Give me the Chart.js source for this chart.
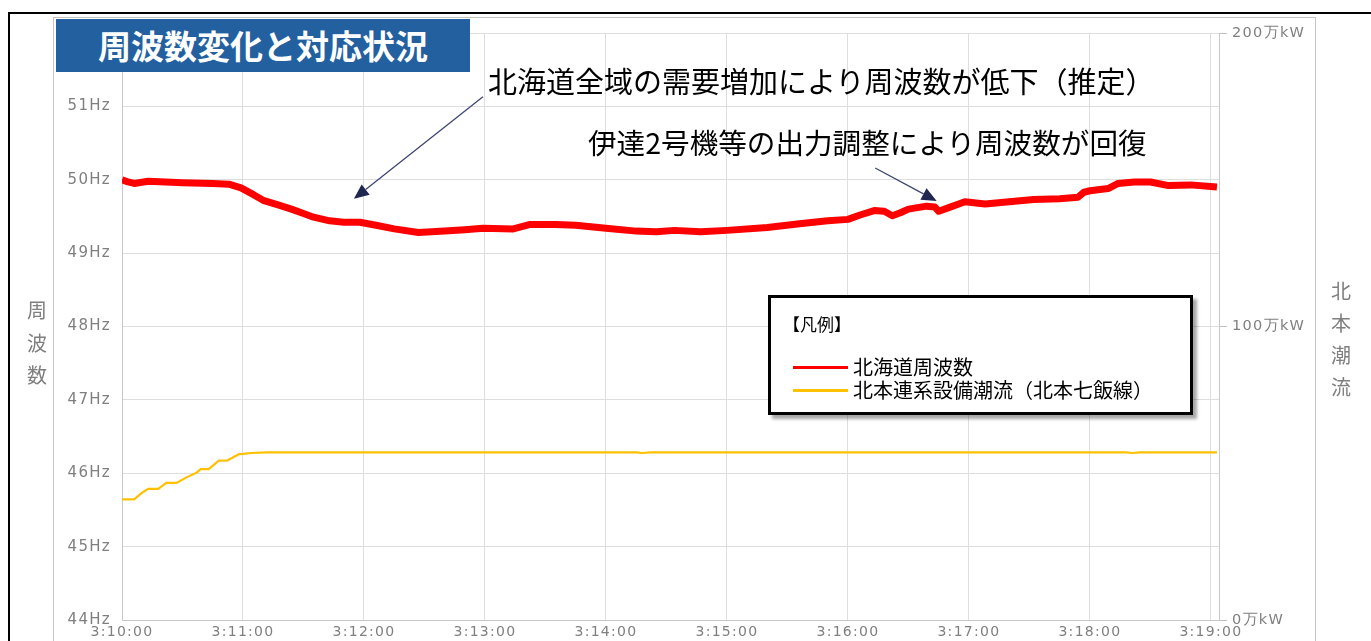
<!DOCTYPE html>
<html>
<head>
<meta charset="utf-8">
<script src="https://cdn.jsdelivr.net/npm/chart.js@4.4.1/dist/chart.umd.min.js"></script>
<style>
html,body{margin:0;padding:0;background:#fff;width:1371px;height:641px;overflow:hidden;}
body{position:relative;font-family:"Noto Sans CJK JP","Noto Sans",sans-serif;}
canvas{position:absolute;left:0;top:0;}
.abs{position:absolute;white-space:nowrap;}
</style>
</head>
<body>
<canvas id="c" width="1371" height="641"></canvas>

<div class="abs" style="left:8px;top:12px;width:1363px;height:2px;background:#000;"></div>
<div class="abs" style="left:8px;top:12px;width:2px;height:629px;background:#000;"></div>
<div class="abs" style="left:53px;top:17px;width:1263px;height:630px;border:1px solid #c4c4c4;box-sizing:border-box;"></div>

<div id="title" class="abs" style="left:56px;top:19px;width:414px;height:53px;background:#2360a0;color:#fff;font-weight:700;font-size:33px;line-height:53px;text-align:center;"></div>
<div id="note1" class="abs" style="left:488px;top:63px;font-size:29px;line-height:34px;color:#000;"></div>
<div id="note2" class="abs" style="left:588px;top:125px;font-size:28.6px;line-height:34px;color:#000;"></div>

<div id="ytitleL" class="abs" style="left:26px;top:294px;width:22px;font-size:20px;line-height:32.5px;color:#7f7f7f;text-align:center;white-space:normal;"></div>
<div id="ytitleR" class="abs" style="left:1330px;top:275px;width:22px;font-size:20px;line-height:32px;color:#7f7f7f;text-align:center;white-space:normal;"></div>

<div id="legend" class="abs" style="left:768px;top:295px;width:425px;height:120px;border:3px solid #000;box-sizing:border-box;background:#fff;box-shadow:4px 4px 3px rgba(0,0,0,0.35);"></div>

<script>
// ---- data (seconds after 3:10:00) ----
const freqTimes = [0,3,6,13,30,45,53,59,65,70,77,84,90,95,103,110,118,126,135,147,160,170,179,194,202,215,225,240,255,265,274,287,300,320,336,350,360,366,373,378,382,386,390,399,403,405,410,418,428,440,452,465,474,477,480,489,494,502,510,519,530,543];
const freqValues = [50.00,49.97,49.95,49.98,49.96,49.95,49.94,49.89,49.80,49.72,49.66,49.60,49.54,49.49,49.44,49.42,49.42,49.38,49.33,49.28,49.30,49.32,49.34,49.33,49.39,49.39,49.38,49.34,49.30,49.29,49.31,49.29,49.31,49.35,49.40,49.44,49.46,49.52,49.58,49.57,49.51,49.55,49.60,49.64,49.63,49.57,49.62,49.70,49.67,49.70,49.73,49.74,49.76,49.83,49.85,49.88,49.95,49.97,49.97,49.92,49.93,49.90];

const flowTimes = [0,6,10,13,18,22,27,32,37,39,43,48,52,58,60,64,72,255,258,262,498,501,505,543];
const flowValues = [41.1,41.1,43.4,44.7,44.7,46.7,46.7,48.6,50.2,51.4,51.4,54.3,54.3,56.5,56.6,56.9,57.1,57.1,56.9,57.1,57.1,56.9,57.1,57.1];

const xTickSeconds = [0,60,120,180,240,300,360,420,480,540];
const xTickLabels = ['3:10:00','3:11:00','3:12:00','3:13:00','3:14:00','3:15:00','3:16:00','3:17:00','3:18:00','3:19:00'];
const freqTickValues = [44,45,46,47,48,49,50,51,52];
const flowTickValues = [0,100,200];

const seriesNames = ['北海道周波数','北本連系設備潮流（北本七飯線）'];
const seriesColors = ['#ff0000','#ffc000'];

const chartTitle = '周波数変化と対応状況';
const noteTexts = ['北海道全域の需要増加により周波数が低下（推定）','伊達2号機等の出力調整により周波数が回復'];
// arrows in data space: [seconds, Hz]
const arrowFrom = [[179,51.13],[373.5,50.16]];
const arrowTo = [[115,49.74],[404,49.71]];
const leftAxisTitle = '周波数';
const rightAxisTitle = '北本潮流';
const legendTitle = '【凡例】';

// ---- decorations ----
document.getElementById('title').textContent = chartTitle;
document.getElementById('note1').textContent = noteTexts[0];
document.getElementById('note2').textContent = noteTexts[1];
document.getElementById('ytitleL').innerHTML = leftAxisTitle.split('').join('<br>');
document.getElementById('ytitleR').innerHTML = rightAxisTitle.split('').join('<br>');

const fam = '"DejaVu Sans", sans-serif';

const spacingPlugin = {
  id:'spacing',
  beforeDraw(chart){ chart.ctx.letterSpacing = '1.3px'; },
  afterDraw(chart){ chart.ctx.letterSpacing = '0px'; }
};

const arrowPlugin = {
  id:'arrows',
  afterDatasetsDraw(chart){
    const ctx = chart.ctx, xs = chart.scales.x, ys = chart.scales.y;
    ctx.save();
    for (let i = 0; i < arrowFrom.length; i++){
      const x1 = xs.getPixelForValue(arrowFrom[i][0]), y1 = ys.getPixelForValue(arrowFrom[i][1]);
      const x2 = xs.getPixelForValue(arrowTo[i][0]), y2 = ys.getPixelForValue(arrowTo[i][1]);
      const ang = Math.atan2(y2-y1, x2-x1);
      const L = 15, W = 6.5;
      const bx = x2 - L*Math.cos(ang), by = y2 - L*Math.sin(ang);
      ctx.strokeStyle = '#3d4471'; ctx.lineWidth = 1.3;
      ctx.beginPath(); ctx.moveTo(x1,y1); ctx.lineTo(bx,by); ctx.stroke();
      ctx.fillStyle = '#1f2650';
      ctx.beginPath();
      ctx.moveTo(x2,y2);
      ctx.lineTo(bx + W*Math.sin(ang), by - W*Math.cos(ang));
      ctx.lineTo(bx - W*Math.sin(ang), by + W*Math.cos(ang));
      ctx.closePath(); ctx.fill();
    }
    ctx.restore();
  }
};

const chart = new Chart(document.getElementById('c'), {
  type:'line',
  data:{
    datasets:[
      {label:seriesNames[0], data:freqTimes.map((t,i)=>({x:t,y:freqValues[i]})), borderColor:seriesColors[0], backgroundColor:seriesColors[0], borderWidth:7, pointRadius:0, tension:0, yAxisID:'y', borderJoinStyle:'round', borderCapStyle:'butt'},
      {label:seriesNames[1], data:flowTimes.map((t,i)=>({x:t,y:flowValues[i]})), borderColor:seriesColors[1], backgroundColor:seriesColors[1], borderWidth:2.2, pointRadius:0, tension:0, yAxisID:'y1'}
    ]
  },
  options:{
    responsive:false, animation:false, devicePixelRatio:1,
    layout:{padding:{top:33,left:0,right:0,bottom:0}},
    plugins:{legend:{display:false}, tooltip:{enabled:false}, title:{display:false}},
    scales:{
      x:{
        type:'linear', min:0, max:544,
        afterBuildTicks:s=>{ s.ticks = xTickSeconds.map(v=>({value:v})); },
        afterFit:s=>{ s.height = 21; },
        ticks:{callback:v=>xTickLabels[xTickSeconds.indexOf(v)], color:'#7f7f7f', font:{family:fam, size:14}, padding:4, maxRotation:0, autoSkip:false},
        grid:{color:'#dedede', drawTicks:false, lineWidth:1},
        border:{color:'#c8c8c8'}
      },
      y:{
        position:'left', min:44, max:52,
        afterBuildTicks:s=>{ s.ticks = freqTickValues.map(v=>({value:v})); },
        afterFit:s=>{ s.width = 122; },
        ticks:{callback:v=> v===52 ? '' : v+'Hz', color:'#7f7f7f', font:{family:fam, size:15}, padding:11},
        grid:{color:'#dedede', drawTicks:false},
        border:{color:'#c8c8c8'}
      },
      y1:{
        position:'right', min:0, max:200,
        afterBuildTicks:s=>{ s.ticks = flowTickValues.map(v=>({value:v})); },
        afterFit:s=>{ s.width = 152; },
        ticks:{callback:v=>v+'万kW', color:'#7f7f7f', font:{family:fam, size:14.5}, padding:5},
        grid:{drawOnChartArea:false, drawTicks:true, tickLength:8, color:'#bfbfbf'},
        border:{color:'#c8c8c8'}
      }
    }
  },
  plugins:[spacingPlugin, arrowPlugin]
});

// ---- HTML legend built from datasets ----
const lg = document.getElementById('legend');
let html = '<div class="abs" style="left:12px;top:14px;font-size:17px;line-height:24px;color:#000;">'+legendTitle+'</div>';
chart.data.datasets.forEach((ds,i)=>{
  const cy = 69 + i*23;
  html += '<div class="abs" style="left:22px;top:'+(cy-1.5)+'px;width:55px;height:3px;background:'+ds.borderColor+';"></div>';
  html += '<div class="abs" style="left:82px;top:'+(cy-13)+'px;font-size:20px;line-height:26px;color:#000;">'+ds.label+'</div>';
});
lg.innerHTML = html;
</script>
</body>
</html>
